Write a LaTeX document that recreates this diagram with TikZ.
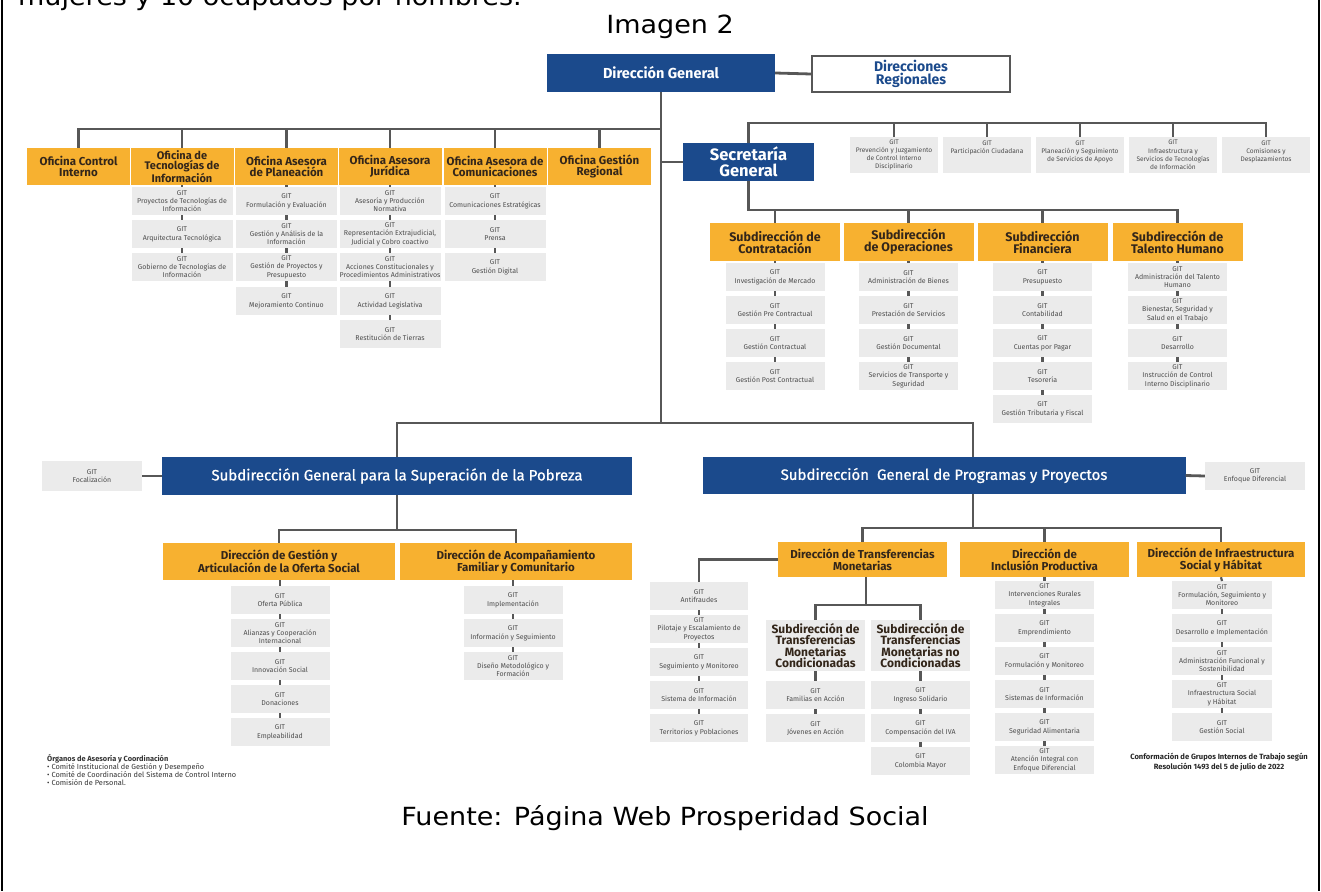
\documentclass[tikz,border=0pt]{standalone}
\usepackage{fontspec}
\setmainfont{DejaVu Sans}
\newfontfamily\capf{DejaVu Sans}[FakeStretch=1.08]
\newfontfamily\chartf{Fira Sans}
\newfontfamily\bluef{Fira Sans}[FakeBold=0.8]
\definecolor{blueC}{HTML}{1B4A8C}
\definecolor{orC}{HTML}{F7B130}
\definecolor{gitC}{HTML}{EBEBEB}
\definecolor{lineC}{HTML}{575757}
\definecolor{gtxt}{HTML}{4D4D4D}
\definecolor{otxt}{HTML}{33261A}
\tikzset{
 blu/.style={fill=blueC, text=white, inner sep=0pt, align=center},
 orn/.style={fill=orC, text=otxt, inner sep=0pt, align=center, font=\chartf\bfseries\fontsize{11.5}{11.5}\selectfont},
 git/.style={fill=gitC, text=gtxt, inner sep=0pt, align=center, font=\chartf\fontsize{7}{8.3}\selectfont, minimum height=28pt},
 subg/.style={fill=gitC, text=otxt, inner sep=0pt, align=center, font=\chartf\bfseries\fontsize{12}{11.5}\selectfont},
 conn/.style={draw=lineC, line width=2.8pt},
 tk/.style={draw=lineC, line width=2.2pt},
 captxt/.style={font=\capf\fontsize{25}{28}\selectfont, inner sep=0pt},
}
\newcommand\gitb[5]{\node[git, minimum width=#4pt, anchor=north] (#1) at (#2,#3) {GIT\\#5};}
\begin{document}
\begin{tikzpicture}[x=1pt,y=-1pt]
\useasboundingbox (0,0) rectangle (1321,891);
% page frame
\draw[line width=1.2pt] (2,0) -- (2,891);
\draw[line width=1.2pt] (1319,0) -- (1319,891);
% captions
\node[captxt, anchor=base west] (cut) at (18,6) {mujeres y 10 ocupados por hombres.};
\node[captxt] (img) at (670,27) {Imagen 2};
\node[captxt] (src) at (665,818) {Fuente: Página Web Prosperidad Social};

% top
\node[blu, minimum width=228pt, minimum height=38pt, font=\chartf\bfseries\fontsize{14.5}{16}\selectfont] (DG) at (661,73) {Dirección General};
\node[draw=lineC, line width=2.2pt, fill=white, text=blueC, align=center, inner sep=0pt, minimum width=198pt, minimum height=36pt, font=\chartf\bfseries\fontsize{14}{13.5}\selectfont] (DR) at (911,74) {Direcciones\\Regionales};

% oficinas
\node[orn, minimum width=103pt, minimum height=37pt] (o1) at (78.5,166.5) {Oficina Control\\Interno};
\node[orn, minimum width=103pt, minimum height=37pt, font=\chartf\bfseries\fontsize{11}{10.6}\selectfont] (o2) at (182,166.5) {Oficina de\\Tecnologías de\\Información};
\node[orn, minimum width=103pt, minimum height=37pt] (o3) at (286.5,166.5) {Oficina Asesora\\de Planeación};
\node[orn, minimum width=103pt, minimum height=37pt] (o4) at (390,166.5) {Oficina Asesora\\Jurídica};
\node[orn, minimum width=103pt, minimum height=37pt] (o5) at (495,166.5) {Oficina Asesora de\\Comunicaciones};
\node[orn, minimum width=103pt, minimum height=37pt] (o6) at (599.5,166.5) {Oficina Gestión\\Regional};

\gitb{o2a}{182}{187}{101}{Proyectos de Tecnologías de\\Información}
\gitb{o2b}{182}{220}{101}{Arquitectura Tecnológica}
\gitb{o2c}{182}{253}{101}{Gobierno de Tecnologías de\\Información}
\gitb{o3a}{286.5}{187}{101}{Formulación y Evaluación}
\gitb{o3b}{286.5}{220}{101}{Gestión y Análisis de la\\Información}
\gitb{o3c}{286.5}{253}{101}{Gestión de Proyectos y\\Presupuesto}
\gitb{o3d}{286.5}{287}{101}{Mejoramiento Continuo}
\gitb{o4a}{390}{187}{101}{Asesoría y Producción\\Normativa}
\gitb{o4b}{390}{220}{101}{Representación Extrajudicial,\\Judicial y Cobro coactivo}
\gitb{o4c}{390}{253}{101}{Acciones Constitucionales y\\Procedimientos Administrativos}
\gitb{o4d}{390}{287}{101}{Actividad Legislativa}
\gitb{o4e}{390}{320}{101}{Restitución de Tierras}
\gitb{o5a}{495}{187}{101}{Comunicaciones Estratégicas}
\gitb{o5b}{495}{220}{101}{Prensa}
\gitb{o5c}{495}{253}{101}{Gestión Digital}

% secretaria
\node[blu, minimum width=131pt, minimum height=38pt, font=\chartf\bfseries\fontsize{16.5}{16}\selectfont] (SG) at (748.5,162) {Secretaría\\General};
\node[git, minimum width=88pt, minimum height=36pt, font=\chartf\fontsize{6.6}{8.2}\selectfont] (sgt1) at (894,155) {GIT\\Prevención y Juzgamiento\\de Control Interno\\Disciplinario};
\node[git, minimum width=88pt, minimum height=36pt, font=\chartf\fontsize{6.6}{8.2}\selectfont] (sgt2) at (987,155) {GIT\\Participación Ciudadana\\~\\~};
\node[git, minimum width=88pt, minimum height=36pt, font=\chartf\fontsize{6.6}{8.2}\selectfont] (sgt3) at (1080,155) {GIT\\Planeación y Seguimiento\\de Servicios de Apoyo\\~};
\node[git, minimum width=88pt, minimum height=36pt, font=\chartf\fontsize{6.6}{8.2}\selectfont] (sgt4) at (1173,155) {GIT\\Infraestructura y\\Servicios de Tecnologías\\de Información};
\node[git, minimum width=88pt, minimum height=36pt, font=\chartf\fontsize{6.6}{8.2}\selectfont] (sgt5) at (1266,155) {GIT\\Comisiones y\\Desplazamientos\\~};

\node[orn, minimum width=130pt, minimum height=38pt, font=\chartf\bfseries\fontsize{12.5}{12}\selectfont] (s1) at (775,242) {Subdirección de\\Contratación};
\node[orn, minimum width=130pt, minimum height=38pt, font=\chartf\bfseries\fontsize{12.5}{12}\selectfont] (s2) at (908.5,242) {Subdirección\\de Operaciones};
\node[orn, minimum width=130pt, minimum height=38pt, font=\chartf\bfseries\fontsize{12.5}{12}\selectfont] (s3) at (1042.5,242) {Subdirección\\Financiera};
\node[orn, minimum width=130pt, minimum height=38pt, font=\chartf\bfseries\fontsize{12.5}{12}\selectfont] (s4) at (1177.5,242) {Subdirección de\\Talento Humano};

\gitb{s1a}{775}{263}{99}{Investigación de Mercado}
\gitb{s1b}{775}{296}{99}{Gestión Pre Contractual}
\gitb{s1c}{775}{329}{99}{Gestión Contractual}
\gitb{s1d}{775}{362}{99}{Gestión Post Contractual}
\gitb{s2a}{908.5}{263}{99}{Administración de Bienes}
\gitb{s2b}{908.5}{296}{99}{Prestación de Servicios}
\gitb{s2c}{908.5}{329}{99}{Gestión Documental}
\gitb{s2d}{908.5}{362}{99}{Servicios de Transporte y\\Seguridad}
\gitb{s3a}{1042.5}{263}{99}{Presupuesto}
\gitb{s3b}{1042.5}{296}{99}{Contabilidad}
\gitb{s3c}{1042.5}{329}{99}{Cuentas por Pagar}
\gitb{s3d}{1042.5}{362}{99}{Tesorería}
\gitb{s3e}{1042.5}{395}{99}{Gestión Tributaria y Fiscal}
\gitb{s4a}{1177.5}{263}{99}{Administración del Talento\\Humano}
\gitb{s4b}{1177.5}{296}{99}{Bienestar, Seguridad y\\Salud en el Trabajo}
\gitb{s4c}{1177.5}{329}{99}{Desarrollo}
\gitb{s4d}{1177.5}{362}{99}{Instrucción de Control\\Interno Disciplinario}

% bottom
\node[blu, minimum width=470pt, minimum height=38pt, font=\bluef\fontsize{15}{17}\selectfont] (sp) at (397,476) {Subdirección General para la Superación de la Pobreza};
\node[git, minimum width=100pt, minimum height=30pt] (foc) at (92,476) {GIT\\Focalización};
\node[blu, minimum width=483pt, minimum height=37pt, font=\bluef\fontsize{15}{17}\selectfont] (pp) at (944,475.5) {Subdirección\ \ General de Programas y Proyectos};
\node[git, minimum width=100pt, minimum height=28pt] (enf) at (1255,476) {GIT\\Enfoque Diferencial};

\node[orn, minimum width=232pt, minimum height=37pt, font=\chartf\bfseries\fontsize{11.5}{12}\selectfont] (d1) at (279,561.5) {Dirección de Gestión y\\Articulación de la Oferta Social};
\node[orn, minimum width=232pt, minimum height=37pt, font=\chartf\bfseries\fontsize{11.5}{12}\selectfont] (d2) at (516,561.5) {Dirección de Acompañamiento\\Familiar y Comunitario};
\gitb{d1a}{280}{586}{99}{Oferta Pública}
\gitb{d1b}{280}{619}{99}{Alianzas y Cooperación\\Internacional}
\gitb{d1c}{280}{652}{99}{Innovación Social}
\gitb{d1d}{280}{685}{99}{Donaciones}
\gitb{d1e}{280}{718}{99}{Empleabilidad}
\gitb{d2a}{513}{586}{99}{Implementación}
\gitb{d2b}{513}{619}{99}{Información y Seguimiento}
\gitb{d2c}{513}{652}{99}{Diseño Metodológico y\\Formación}

\node[orn, minimum width=169pt, minimum height=35pt, font=\chartf\bfseries\fontsize{11.5}{12}\selectfont] (t) at (862.5,559.5) {Dirección de Transferencias\\Monetarias};
\node[orn, minimum width=169pt, minimum height=35pt, font=\chartf\bfseries\fontsize{11.5}{12}\selectfont] (inc) at (1044.5,559.5) {Dirección de\\Inclusión Productiva};
\node[orn, minimum width=168pt, minimum height=35pt, font=\chartf\bfseries\fontsize{11.5}{12}\selectfont] (inf) at (1221,559.5) {Dirección de Infraestructura\\Social y Hábitat};

\gitb{tla}{699}{582}{98}{Antifraudes}
\gitb{tlb}{699}{615}{98}{Pilotaje y Escalamiento de\\Proyectos}
\gitb{tlc}{699}{648}{98}{Seguimiento y Monitoreo}
\gitb{tld}{699}{681}{98}{Sistema de Información}
\gitb{tle}{699}{714}{98}{Territorios y Poblaciones}

\node[subg, minimum width=99pt, minimum height=51pt] (c1) at (815.5,645.5) {Subdirección de\\Transferencias\\Monetarias\\Condicionadas};
\node[subg, minimum width=99pt, minimum height=51pt] (c2) at (920.5,645.5) {Subdirección de\\Transferencias\\Monetarias no\\Condicionadas};
\gitb{c1a}{815.5}{681}{99}{Familias en Acción}
\gitb{c1b}{815.5}{714}{99}{Jóvenes en Acción}
\gitb{c2a}{920.5}{681}{99}{Ingreso Solidario}
\gitb{c2b}{920.5}{714}{99}{Compensación del IVA}
\gitb{c2c}{920.5}{747}{99}{Colombia Mayor}

\gitb{inca}{1044.5}{581}{99}{Intervenciones Rurales\\Integrales}
\gitb{incb}{1044.5}{614}{99}{Emprendimiento}
\gitb{incc}{1044.5}{647}{99}{Formulación y Monitoreo}
\gitb{incd}{1044.5}{680}{99}{Sistemas de Información}
\gitb{ince}{1044.5}{713}{99}{Seguridad Alimentaria}
\gitb{incf}{1044.5}{746}{99}{Atención Integral con\\Enfoque Diferencial}

\gitb{infa}{1222}{581}{100}{Formulación, Seguimiento y\\Monitoreo}
\gitb{infb}{1222}{614}{100}{Desarrollo e Implementación}
\gitb{infc}{1222}{647}{100}{Administración Funcional y\\Sostenibilidad}
\gitb{infd}{1222}{680}{100}{Infraestructura Social\\y Hábitat}
\gitb{infe}{1222}{713}{100}{Gestión Social}

\node[anchor=north west, align=left, inner sep=0pt, text=black!80, font=\chartf\fontsize{7.4}{8}\selectfont] (org) at (47,754) {\textbf{Órganos de Asesoría y Coordinación}\\• Comité Institucional de Gestión y Desempeño\\• Comité de Coordinación del Sistema de Control Interno\\• Comisión de Personal.};
\node[align=center, inner sep=0pt, text=black!85, font=\chartf\bfseries\fontsize{7.6}{9.5}\selectfont] (conf) at (1219,762) {Conformación de Grupos Internos de Trabajo según\\Resolución 1493 del 5 de julio de 2022};

% connectors
\coordinate (tb) at (661,129);
\coordinate (mb) at (661,423);
\coordinate (ppx) at (973,0);
\draw[conn] (DG.south) -- (mb);
\draw[conn] (DG.east) -- (DR.west);
\draw[conn] (o1.north) |- (tb);
\foreach \n in {o2,o3,o4,o5,o6} \draw[conn] (\n.north) -- (\n.north |- tb);
\draw[conn] (SG.west) -- (SG.west -| mb);
\coordinate (stb) at (748.5,123);
\draw[conn] (SG.north) -- (stb) -| (sgt5.north);
\foreach \n in {sgt1,sgt2,sgt3,sgt4} \draw[conn] (\n.north) -- (\n.north |- stb);
\coordinate (ssb) at (748.5,210);
\draw[conn] (SG.south) -- (ssb) -| (s4.north);
\foreach \n in {s1,s2,s3} \draw[conn] (\n.north) -- (\n.north |- ssb);

\draw[conn] (sp.north) |- (mb) -| (ppx |- pp.north);
\draw[conn] (foc.east) -- (sp.west);
\draw[conn] (pp.east) -- (enf.west);
\coordinate (spb) at (397,530);
\draw[conn] (sp.south) -- (spb);
\draw[conn] (d1.north) |- (spb) -| (d2.north);
\coordinate (ppb) at (973,528);
\draw[conn] (ppx |- pp.south) -- (ppb);
\draw[conn] (t.north) |- (ppb) -| (inf.north);
\draw[conn] (inc.north) -- (inc.north |- ppb);
\draw[conn] (t.west) -| (tla.north);
\coordinate (tbb) at (866,605);
\draw[conn] (t.south -| tbb) -- (tbb);
\draw[conn] (c1.north) |- (tbb) -| (c2.north);

\foreach \a/\b in {o2/o2a,o2a/o2b,o2b/o2c,o3/o3a,o3a/o3b,o3b/o3c,o3c/o3d,o4/o4a,o4a/o4b,o4b/o4c,o4c/o4d,o4d/o4e,o5/o5a,o5a/o5b,o5b/o5c,
 s1/s1a,s1a/s1b,s1b/s1c,s1c/s1d,s2/s2a,s2a/s2b,s2b/s2c,s2c/s2d,s3/s3a,s3a/s3b,s3b/s3c,s3c/s3d,s3d/s3e,s4/s4a,s4a/s4b,s4b/s4c,s4c/s4d,
 d1a/d1b,d1b/d1c,d1c/d1d,d1d/d1e,d2a/d2b,d2b/d2c,
 tla/tlb,tlb/tlc,tlc/tld,tld/tle,c1/c1a,c1a/c1b,c2/c2a,c2a/c2b,c2b/c2c,
 inc/inca,inca/incb,incb/incc,incc/incd,incd/ince,ince/incf,inf/infa,infa/infb,infb/infc,infc/infd,infd/infe}
 \draw[tk] (\a.south) -- (\b.north);
\draw[tk] (d1.south -| d1a.north) -- (d1a.north);
\draw[tk] (d2.south -| d2a.north) -- (d2a.north);
\end{tikzpicture}
\end{document}
